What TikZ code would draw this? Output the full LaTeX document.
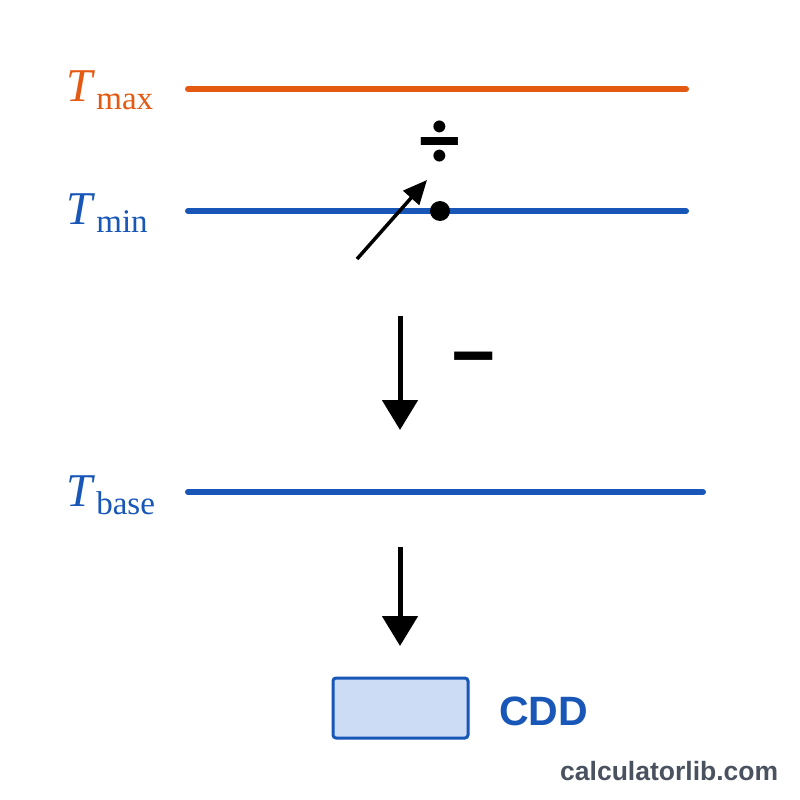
\documentclass[tikz,border=0pt]{standalone}
\usepackage{fontspec}
\newfontfamily\sansbold{Liberation Sans}[BoldFont={* Bold}]
\newfontfamily\serifT{Liberation Serif}
\newfontfamily\heros{TeX Gyre Heros}
\usetikzlibrary{arrows.meta}
\definecolor{torange}{HTML}{E55A12}
\definecolor{tblue}{HTML}{1856B8}
\definecolor{boxfill}{HTML}{CCDCF4}
\definecolor{wmgray}{HTML}{4A5260}
\newcommand{\tsub}[1]{{\itshape T}\hspace{4pt}\raisebox{-8pt}{\fontsize{33}{36}\selectfont #1}}
\tikzset{
  level/.style={line width=6pt, line cap=round},
  tlabel/.style={anchor=base west, inner sep=0pt, font=\fontsize{47}{50}\selectfont\serifT},
  blackarrow/.style={line width=5pt, -{Triangle[length=30pt,width=35pt]}},
  thinarrow/.style={line width=3.5pt, -{Triangle[length=24pt,width=21pt]}},
  opsign/.style={inner sep=0pt, anchor=center},
}
\begin{document}
\begin{tikzpicture}[x=1pt,y=-1pt]
\useasboundingbox[fill=white] (0,0) rectangle (800,800);
% labels
\node[tlabel, text=torange] (lmax) at (66,101) {\tsub{max}};
\node[tlabel, text=tblue] (lmin) at (66,224) {\tsub{min}};
\node[tlabel, text=tblue] (lbase) at (66,506) {\tsub{base}};
% level lines
\coordinate (maxL) at (188,89); \coordinate (maxR) at (686,89);
\coordinate (minL) at (188,211); \coordinate (minR) at (686,211);
\coordinate (baseL) at (188,492); \coordinate (baseR) at (703,492);
\draw[level, torange] (maxL) -- (maxR);
\draw[level, tblue] (minL) -- (minR);
\draw[level, tblue] (baseL) -- (baseR);
% divide sign
\node[opsign, font=\fontsize{80}{80}\selectfont\heros\bfseries] (div) at (440,141) {÷};
% dot
\fill (440,211) circle (10);
% diagonal arrow
\coordinate (dtail) at (357,259);
\coordinate (dtip) at (427,180);
\draw[thinarrow] (dtail) -- (dtip);
% down arrow 1
\coordinate (a1s) at (400,316);
\coordinate (a1e) at (400,430);
\draw[blackarrow] (a1s) -- (a1e);
% minus
\node[opsign, font=\fontsize{76}{80}\selectfont\sansbold\bfseries] (minus) at (474,367) {−};
% down arrow 2
\coordinate (a2s) at (400,547);
\coordinate (a2e) at (400,646);
\draw[blackarrow] (a2s) -- (a2e);
% CDD box
\draw[tblue, fill=boxfill, line width=3pt, rounded corners=3pt] (333,678) rectangle (468,738);
\node[anchor=base west, inner sep=0pt, text=tblue, font=\fontsize{41}{45}\selectfont\sansbold\bfseries] (cdd) at (499,725) {CDD};
% watermark
\node[anchor=base west, inner sep=0pt, text=wmgray, font=\fontsize{26.5}{30}\selectfont\sansbold\bfseries] (wm) at (560,780) {calculatorlib.com};
\end{tikzpicture}
\end{document}
